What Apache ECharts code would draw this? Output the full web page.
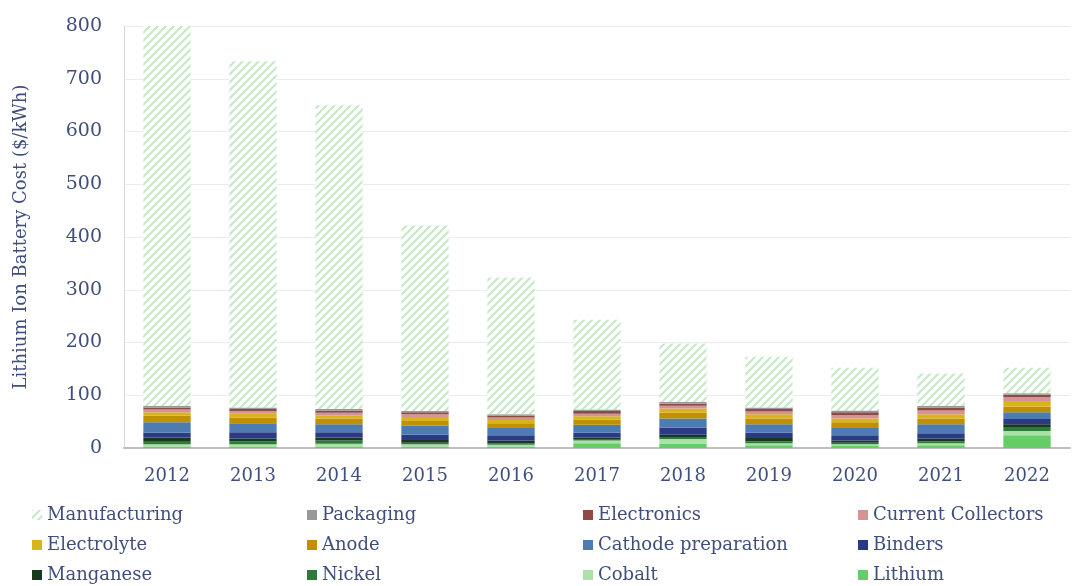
<!DOCTYPE html>
<html><head><meta charset="utf-8">
<script src="https://cdn.jsdelivr.net/npm/echarts@6/dist/echarts.min.js"></script>
<style>html,body{margin:0;padding:0;background:#fff}#c{width:1078px;height:586px}</style>
</head><body><div id="c"></div>
<script>
var years = ['2012','2013','2014','2015','2016','2017','2018','2019','2020','2021','2022'];
var lithium     = [3, 3, 3, 3, 3, 9, 8, 5, 4, 5, 24];
var cobalt      = [4, 4, 5, 4, 3, 5, 9, 4, 3, 4, 8];
var nickel      = [5, 6, 6, 3, 3, 3, 4, 4, 3, 4, 8];
var manganese   = [8, 5, 6, 5, 5, 3, 4, 6, 4, 5, 5];
var binders     = [9, 12, 10, 10, 10, 9, 14, 10, 10, 10, 10];
var cathode     = [20, 17, 15, 17, 14, 15, 17, 16, 14, 17, 13];
var anode       = [12, 11, 11, 9, 9, 10, 11, 11, 11, 11, 10];
var electrolyte = [7, 7, 6, 8, 6, 6, 8, 8, 7, 8, 11];
var collectors  = [5, 5, 5, 5, 5, 5, 5, 5, 6, 7, 7];
var electronics = [4, 4, 4, 4, 3, 5, 4, 5, 6, 6, 5];
var packaging   = [3, 3, 3, 2, 3, 3, 3, 3, 3, 3, 3];
var manufacturing = [720, 656, 576, 352, 259, 170, 111, 96, 81, 61, 48];
var yTicks = [0, 100, 200, 300, 400, 500, 600, 700, 800];

var pc = document.createElement('canvas');
pc.width = 8; pc.height = 8;
var g = pc.getContext('2d');
g.fillStyle = '#ffffff'; g.fillRect(0,0,8,8);
g.strokeStyle = '#c4eac4'; g.lineWidth = 2;
g.beginPath();
g.moveTo(-2,10); g.lineTo(10,-2);
g.moveTo(-2,2); g.lineTo(2,-2);
g.moveTo(6,10); g.lineTo(10,6);
g.stroke();
var hatch = {image: pc, repeat: 'repeat'};

var defs = [
  ['Lithium', lithium, '#66cc66'],
  ['Cobalt', cobalt, '#a9e2a4'],
  ['Nickel', nickel, '#2e7a3a'],
  ['Manganese', manganese, '#173a1f'],
  ['Binders', binders, '#2b3a84'],
  ['Cathode preparation', cathode, '#4f7bb3'],
  ['Anode', anode, '#bf9000'],
  ['Electrolyte', electrolyte, '#dab41c'],
  ['Current Collectors', collectors, '#d39494'],
  ['Electronics', electronics, '#8e4a44'],
  ['Packaging', packaging, '#999999'],
  ['Manufacturing', manufacturing, hatch]
];
var series = defs.map(function(d){
  return {name: d[0], type: 'bar', stack: 'all', data: d[1], barWidth: '55%',
    itemStyle: {color: d[2]}, emphasis: {disabled: true}};
});

var txt = '#3f4e7c';
var font = 'DejaVu Serif';
var cols = [
  ['Manufacturing','Electrolyte','Manganese'],
  ['Packaging','Anode','Nickel'],
  ['Electronics','Cathode preparation','Cobalt'],
  ['Current Collectors','Binders','Lithium']
];
var lefts = [32, 307, 583, 858];
var legends = cols.map(function(c, i){
  return {data: c, orient: 'vertical', left: lefts[i], top: 506, height: 120,
    padding: 0, itemGap: 12,
    itemWidth: 10, itemHeight: 10, icon: 'rect', selectedMode: false,
    textStyle: {color: txt, fontFamily: font, fontSize: 18}};
});

var chart = echarts.init(document.getElementById('c'));
chart.setOption({
  animation: false,
  backgroundColor: '#fff',
  grid: {left: 124, right: 8, top: 26, bottom: 138},
  legend: legends,
  xAxis: {type: 'category', data: years,
    axisLine: {lineStyle: {color: '#bfbfbf', width: 2}}, axisTick: {show: false},
    axisLabel: {color: txt, fontFamily: font, fontSize: 18, margin: 19}},
  yAxis: {type: 'value', min: 0, max: 800, interval: 100,
    name: 'Lithium Ion Battery Cost ($/kWh)', nameLocation: 'middle', nameGap: 94,
    nameTextStyle: {color: txt, fontFamily: font, fontSize: 18},
    axisLine: {show: true, lineStyle: {color: '#d9d9d9'}},
    splitLine: {lineStyle: {color: '#ececec'}},
    axisLabel: {color: txt, fontFamily: font, fontSize: 19, margin: 22,
      formatter: function(v){ return yTicks.indexOf(v) >= 0 ? String(v) : ''; }}},
  series: series
});
</script></body></html>
